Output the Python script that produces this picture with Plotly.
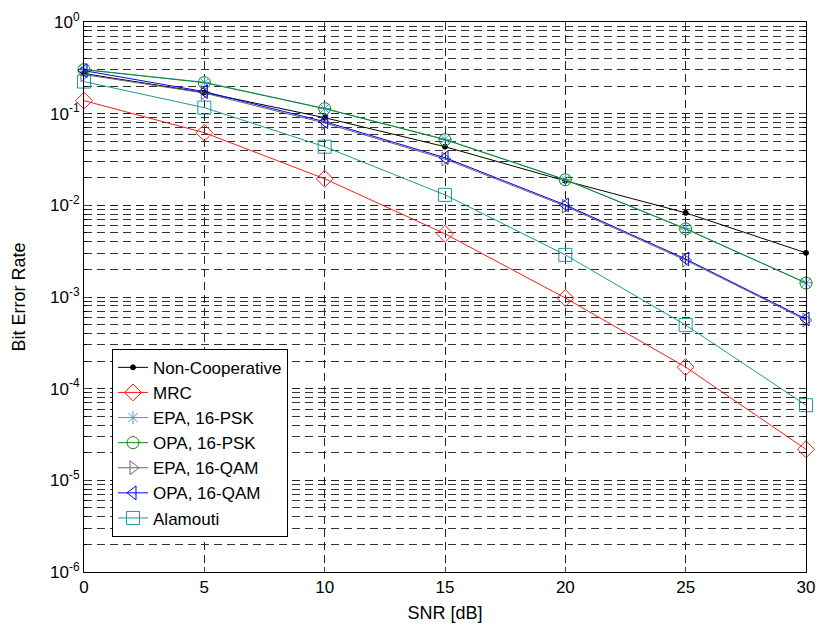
import plotly.graph_objects as go

snr = [0, 5, 10, 15, 20, 25, 30]

ber_noncoop = [0.274, 0.170, 0.0904, 0.0436, 0.0185, 0.00828, 0.00303]
ber_mrc = [0.1387, 0.0620, 0.0195, 0.00489, 9.75e-4, 1.72e-4, 2.18e-5]
ber_epa_psk = [0.304, 0.220, 0.1140, 0.0525, 0.0191, 0.00556, 0.00143]
ber_opa_psk = [0.302, 0.218, 0.1134, 0.0520, 0.0190, 0.00553, 0.00142]
ber_epa_qam = [0.267, 0.168, 0.0790, 0.0320, 0.0098, 0.00252, 5.6e-4]
ber_opa_qam = [0.295, 0.174, 0.0818, 0.0331, 0.0101, 0.00260, 5.75e-4]
ber_alamouti = [0.224, 0.1163, 0.0436, 0.0130, 0.00288, 4.94e-4, 6.6e-5]

y_tickvals = [1e-6, 1e-5, 1e-4, 1e-3, 1e-2, 1e-1, 1]
y_ticktext = ["10<sup>-6</sup>", "10<sup>-5</sup>", "10<sup>-4</sup>", "10<sup>-3</sup>",
              "10<sup>-2</sup>", "10<sup>-1</sup>", "10<sup>0</sup>"]
x_tickvals = [0, 5, 10, 15, 20, 25, 30]

series = [
    ("Non-Cooperative", ber_noncoop, "black", "circle", 5),
    ("MRC", ber_mrc, "#ff1a1a", "diamond-open", 13),
    ("EPA, 16-PSK", ber_epa_psk, "#3d9fd6", "asterisk-open", 11),
    ("OPA, 16-PSK", ber_opa_psk, "#138a13", "circle-open", 12),
    ("EPA, 16-QAM", ber_epa_qam, "#666666", "triangle-right-open", 12),
    ("OPA, 16-QAM", ber_opa_qam, "#0000ff", "triangle-left-open", 12),
    ("Alamouti", ber_alamouti, "#1f9999", "square-open", 13),
]

fig = go.Figure()
for name, vals, color, sym, size in series:
    fig.add_trace(go.Scatter(
        x=snr, y=vals, name=name, mode="lines+markers",
        line=dict(color=color, width=1),
        marker=dict(symbol=sym, size=size, color=color, line=dict(color=color, width=1)),
        cliponaxis=False,
    ))

grid_dash = "8px,5px"
fig.update_layout(
    width=819, height=631,
    margin=dict(l=84, r=13, t=22, b=59),
    paper_bgcolor="white", plot_bgcolor="white",
    font=dict(family="Liberation Sans, Arial, sans-serif", color="black", size=17),
    showlegend=True,
    legend=dict(
        x=0.0388, y=0.064, xanchor="left", yanchor="bottom",
        bgcolor="white", bordercolor="black", borderwidth=1,
        font=dict(size=17), tracegroupgap=0, itemsizing="trace",
    ),
    xaxis=dict(
        range=[0, 30], tickvals=x_tickvals, ticks="inside", ticklen=5,
        showline=True, linecolor="black", linewidth=1, mirror="ticks",
        showgrid=True, gridcolor="#222222", griddash=grid_dash, gridwidth=1,
        zeroline=False, automargin=False,
        title=dict(text="SNR [dB]", font=dict(size=18), standoff=9),
        tickfont=dict(size=17),
    ),
    yaxis=dict(
        type="log", range=[-6, 0], tickvals=y_tickvals, ticktext=y_ticktext,
        ticks="inside", ticklen=5,
        showline=True, linecolor="black", linewidth=1, mirror="ticks",
        showgrid=True, gridcolor="#222222", griddash=grid_dash, gridwidth=1,
        zeroline=False, automargin=False,
        minor=dict(dtick="D1", ticks="inside", ticklen=3, tickcolor="black",
                   showgrid=True, gridcolor="#333333", griddash=grid_dash, gridwidth=1),
        title=dict(text="Bit Error Rate", font=dict(size=18), standoff=19),
        tickfont=dict(size=17),
    ),
)

fig.write_html("out.html")
